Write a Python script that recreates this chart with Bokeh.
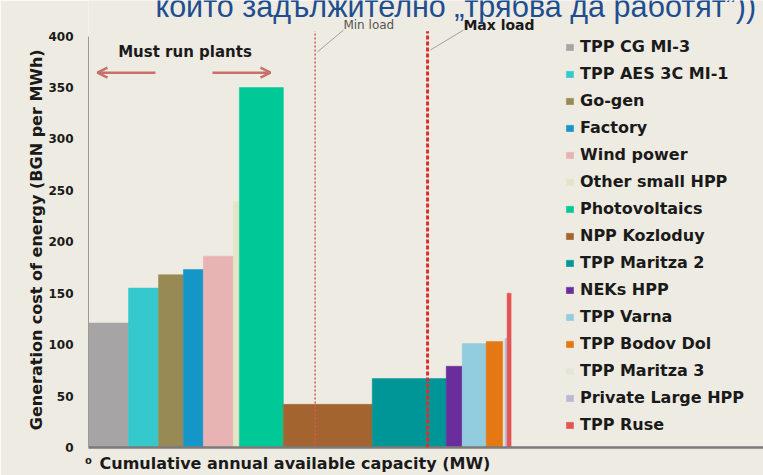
import numpy as np
from bokeh.plotting import figure
from bokeh.models import (Range1d, Legend, LegendItem, Label, Arrow, OpenHead,
                          LinearAxis, FixedTicker)
from bokeh.embed import file_html
from bokeh.resources import INLINE

# ---------------- data ----------------
plants = ["TPP CG MI-3", "TPP AES 3C MI-1", "Go-gen", "Factory", "Wind power",
          "Other small HPP", "Photovoltaics", "NPP Kozloduy", "TPP Maritza 2",
          "NEKs HPP", "TPP Varna", "TPP Bodov Dol", "TPP Maritza 3",
          "Private Large HPP", "TPP Ruse"]
capacity_mw = [900, 675, 560, 450, 675, 135, 990, 2000, 1665, 360, 540, 380, 45, 45, 90]
cost_bgn = [121, 155, 168, 173, 186, 239, 350, 42, 67, 79, 101, 103, 104, 106, 150]
colors = ["#A6A4A4", "#35C8CC", "#978A55", "#1596C8", "#E7B3B3",
          "#E2E6C6", "#00C896", "#A3642F", "#009596", "#6B2D9B",
          "#92CCDF", "#E57812", "#E3E6D6", "#BAB8D6", "#E45454"]
y_ticks = [0, 50, 100, 150, 200, 250, 300, 350, 400]
x_ticks = [0]
min_load_mw = 5100
max_load_mw = 7630

title_text = "които задължително „трябва да работят”))"
y_title = "Generation cost of energy (BGN per MWh)"
x_title = "Cumulative annual available capacity (MW)"

right = np.cumsum(capacity_mw)
left = right - np.array(capacity_mw)

BG = "#EEEBE2"
BOLD = "DejaVu Sans"
DARK = "#1A1A1A"

p = figure(width=763, height=475, x_range=Range1d(0, 15190), y_range=Range1d(0, 434.6),
           output_backend="svg", toolbar_location=None,
           min_border_left=88, min_border_right=0, min_border_top=0, min_border_bottom=23)
p.background_fill_color = BG
p.border_fill_color = BG
p.outline_line_color = None
p.xgrid.visible = False
p.ygrid.visible = False

items = []
for i, name in enumerate(plants):
    r = p.quad(left=[left[i]], right=[right[i]], bottom=[0], top=[cost_bgn[i]],
               fill_color=colors[i], line_color=colors[i], line_width=0.5)
    items.append(LegendItem(label=name, renderers=[r]))

legend = Legend(items=items, location=(477, 13), orientation="vertical",
                label_text_font=BOLD, label_text_font_style="bold",
                label_text_font_size="16px", label_text_color=DARK,
                glyph_width=9, glyph_height=8, label_height=17, spacing=8,
                padding=0, margin=0, label_standoff=6,
                background_fill_alpha=0, border_line_alpha=0)
p.add_layout(legend)

# ---- y axis ----
yax = p.yaxis[0]
yax.ticker = y_ticks
yax.bounds = (0, 400)
yax.major_label_text_font = BOLD
yax.major_label_text_font_style = "bold"
yax.major_label_text_font_size = "12px"
yax.major_label_text_color = DARK
yax.major_tick_out = 0
yax.major_tick_in = 0
yax.minor_tick_out = 0
yax.minor_tick_in = 0
yax.major_label_standoff = 15
yax.axis_line_color = "#9A9A9A"

# y title as a single labelled tick on an outer left axis
y_mid = 202
ytitle_ax = LinearAxis(ticker=FixedTicker(ticks=[y_mid]),
                       major_label_overrides={y_mid: y_title},
                       major_label_orientation="parallel",
                       major_label_text_font=BOLD, major_label_text_font_style="bold",
                       major_label_text_font_size="16px", major_label_text_color=DARK,
                       major_label_standoff=-1, axis_line_color=None,
                       major_tick_out=0, major_tick_in=0, minor_tick_out=0, minor_tick_in=0)
p.add_layout(ytitle_ax, "left")

# ---- x axis: "0" tick plus title centred under its span ----
x_mid = 4646
xax = p.xaxis[0]
xax.ticker = FixedTicker(ticks=[0, x_mid])
xax.major_label_overrides = {0: "⁰", x_mid: x_title}
xax.major_label_text_font = BOLD
xax.major_label_text_font_style = "bold"
xax.major_label_text_font_size = "16px"
xax.major_label_text_color = DARK
xax.major_label_standoff = 6
xax.major_tick_out = 0
xax.major_tick_in = 0
xax.minor_tick_out = 0
xax.minor_tick_in = 0
xax.axis_line_color = "#7B7B7B"
xax.axis_line_width = 2.5

# ---- load lines ----
p.add_layout(Arrow(end=None, x_start=min_load_mw, y_start=0, x_end=min_load_mw, y_end=404.8,
                   line_color="#D35A5A", line_width=1.5, line_dash="2 2"))
p.add_layout(Arrow(end=None, x_start=max_load_mw, y_start=0, x_end=max_load_mw, y_end=404.8,
                   line_color="#D9302E", line_width=3, line_dash="4 2"))
p.add_layout(Arrow(end=None, x_start=5737, y_start=405.8, x_end=5152, y_end=384.6,
                   line_color="#A0A0A0", line_width=1))
p.add_layout(Arrow(end=None, x_start=8437, y_start=405.8, x_end=7695, y_end=386.5,
                   line_color="#A0A0A0", line_width=1))
p.add_layout(Label(x=5737, y=410.6, text="Min load", text_font="DejaVu Sans",
                   text_font_size="12px", text_color="#555555",
                   text_baseline="middle", text_align="left"))
p.add_layout(Label(x=8437, y=410.6, text="Max load", text_font=BOLD,
                   text_font_style="bold", text_font_size="14px", text_color=DARK,
                   text_baseline="middle", text_align="left"))

# ---- must run plants ----
arrow_col = "#C8706A"
p.add_layout(Arrow(end=OpenHead(size=10, line_color=arrow_col, line_width=2.5),
                   x_start=1507, y_start=364.4, x_end=202, y_end=364.4,
                   line_color=arrow_col, line_width=2.5))
p.add_layout(Arrow(end=OpenHead(size=10, line_color=arrow_col, line_width=2.5),
                   x_start=2790, y_start=364.4, x_end=4095, y_end=364.4,
                   line_color=arrow_col, line_width=2.5))
p.add_layout(Label(x=2171, y=384.6, text="Must run plants", text_font=BOLD,
                   text_font_style="bold", text_font_size="15px", text_color=DARK,
                   text_baseline="middle", text_align="center"))

# ---- slide title fragment at the top (cut off by the frame, as in the source) ----
p.add_layout(Label(x=1507, y=429, text=title_text, text_font="Liberation Sans",
                   text_font_size="30.5px", text_color="#1F4E90",
                   text_baseline="alphabetic", text_align="left"))

open("out.html", "w").write(file_html(p, INLINE))
